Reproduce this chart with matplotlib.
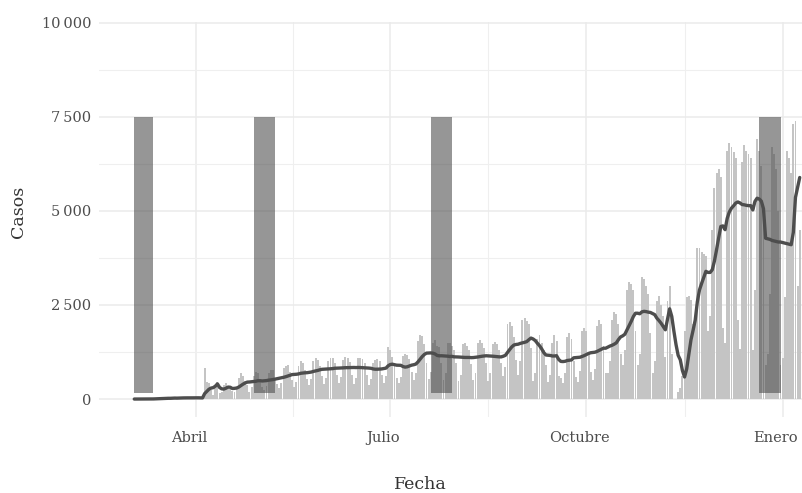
import pandas as pd
import matplotlib.pyplot as plt
import matplotlib.transforms as mtransforms
import numpy as np

# daily cases, first day 2020-03-03
start_date = '2020-03-03'
march_cases = [0, 0, 0, 0, 0, 0, 0, 10, 0, 10, 20, 10, 20, 30, 10, 20, 30,
               20, 40, 30, 20, 30, 40, 30, 30, 40, 20, 30, 40, 30, 40, 30, 20]
weekly_cases = [
    [820, 450, 430, 250, 120, 300, 450],
    [150, 200, 380, 420, 330, 260, 220],
    [180, 260, 560, 690, 600, 480, 380],
    [200, 310, 620, 720, 700, 480, 330],
    [230, 350, 700, 770, 760, 560, 410],
    [300, 420, 820, 880, 900, 720, 510],
    [320, 460, 880, 1000, 950, 760, 530],
    [380, 520, 1000, 1080, 1050, 880, 620],
    [400, 560, 1020, 1100, 1080, 950, 630],
    [420, 580, 1050, 1120, 1090, 980, 640],
    [410, 560, 1080, 1100, 1060, 970, 630],
    [360, 520, 960, 1050, 1060, 1000, 650],
    [430, 600, 1380, 1300, 1120, 900, 570],
    [420, 580, 1150, 1200, 1180, 1060, 710],
    [500, 700, 1550, 1700, 1680, 1450, 960],
    [520, 720, 1500, 1560, 1400, 1380, 970],
    [500, 680, 1480, 1500, 1420, 1300, 960],
    [480, 650, 1450, 1480, 1420, 1300, 920],
    [500, 700, 1500, 1560, 1480, 1350, 960],
    [480, 680, 1460, 1520, 1450, 1300, 950],
    [600, 850, 2000, 2050, 1950, 1650, 1050],
    [650, 1000, 2100, 2150, 2080, 2000, 1360],
    [480, 700, 1600, 1700, 1500, 1300, 910],
    [450, 650, 1500, 1700, 1550, 600, 550],
    [420, 700, 1650, 1750, 1600, 1000, 580],
    [450, 750, 1800, 1900, 1800, 1200, 710],
    [500, 800, 1950, 2100, 2000, 1400, 700],
    [700, 1000, 2100, 2300, 2250, 2000, 1200],
    [900, 1300, 2900, 3100, 3050, 2900, 1810],
    [900, 1200, 3250, 3200, 3000, 2800, 1750],
    [700, 1000, 2600, 2750, 2500, 2200, 1130],
    [2600, 3000, 1200, 0, 0, 200, 300],
    [600, 1800, 2700, 2750, 2640, 2000, 2200],
    [4000, 4000, 3900, 3850, 3800, 1800, 2200],
    [4500, 5600, 6000, 6100, 5900, 1900, 1500],
    [6600, 6800, 6700, 6550, 6400, 2100, 1320],
    [6300, 6750, 6600, 6500, 6400, 1300, 2900],
    [6900, 6600, 6200, 5100, 900, 1200, 2800],
    [6700, 6500, 6100, 5000, 900, 1100, 2700],
    [6600, 6400, 6000, 7300, 7400, 3000, 4500],
]

# shaded periods
period_start = ['2020-03-03', '2020-04-28', '2020-07-20', '2020-12-21']
period_end = ['2020-03-12', '2020-05-08', '2020-07-30', '2020-12-31']
period_low = 150
period_high = 7500

y_ticks = [0, 2500, 5000, 7500, 10000]
y_labels = ['0', '2\u2009500', '5\u2009000', '7\u2009500', '10\u2009000']
x_ticks = ['2020-01-01', '2020-04-01', '2020-07-01', '2020-10-01', '2021-01-01', '2021-04-01']
x_labels = ['', 'Abril', 'Julio', 'Octubre', 'Enero', '']


def build_data():
    cases = march_cases + [v for week in weekly_cases for v in week]
    df = pd.DataFrame({
        'fecha': pd.date_range(start_date, periods=len(cases), freq='D'),
        'casos': cases,
    })
    # media movil 7 dias
    df['media'] = df['casos'].rolling(7, min_periods=1).mean()
    return df


def plot_cases():
    df = build_data()

    plt.rcParams['font.family'] = 'DejaVu Serif'
    fig = plt.figure(figsize=(8.03, 4.93), dpi=100)
    ax = fig.add_axes([99.5 / 803, 76 / 493, 733.5 / 803, 395 / 493])

    ax.bar(df['fecha'], df['casos'], width=0.9, color='#c4c4c4', zorder=2)

    starts = pd.to_datetime(period_start)
    ends = pd.to_datetime(period_end)
    widths = (ends - starts).days
    ax.bar(starts, period_high - period_low, bottom=period_low, width=widths,
           align='edge', color='#505050', alpha=0.6, zorder=3)

    ax.plot(df['fecha'], df['media'], color='#4d4d4d', linewidth=2.4,
            solid_capstyle='round', zorder=4)

    # ticks first, then limits (set_xticks widens the view)
    major = pd.to_datetime(x_ticks)
    ax.set_xticks(major)
    ax.set_xticklabels(x_labels)
    ax.set_xticks(major[:-1] + (major[1:] - major[:-1]) / 2, minor=True)
    ax.set_yticks(y_ticks)
    ax.set_yticklabels(y_labels)
    ax.set_yticks([1250, 3750, 6250, 8750], minor=True)

    x0 = pd.Timestamp('2020-04-01')
    ax.set_xlim(x0 - pd.Timedelta(days=45.3), x0 + pd.Timedelta(days=298.6))
    ax.set_ylim(-477, 10017)

    ax.grid(which='major', color='#ebebeb', linewidth=1.1)
    ax.grid(which='minor', color='#efefef', linewidth=0.8)
    ax.set_axisbelow(True)
    for s in ax.spines.values():
        s.set_visible(False)
    ax.tick_params(which='both', length=0)
    ax.tick_params(axis='x', pad=10, labelsize=10.5, labelcolor='#4d4d4d')
    ax.tick_params(axis='y', pad=6, labelsize=10.5, labelcolor='#4d4d4d')

    # labels sit a little left of their gridline in the reference
    shift = mtransforms.ScaledTranslation(-7 / 100, 0, fig.dpi_scale_trans)
    for lab in ax.get_xticklabels():
        lab.set_transform(lab.get_transform() + shift)

    fig.text(420 / 803, 4 / 493, 'Fecha', ha='center', va='baseline',
             fontsize=12.5, color='#333333')
    fig.text(19 / 803, 1 - 212 / 493, 'Casos', ha='center', va='center',
             rotation=90, fontsize=12.5, color='#333333')

    fig.savefig('out.png', dpi=100)


if __name__ == "__main__":
    plot_cases()
